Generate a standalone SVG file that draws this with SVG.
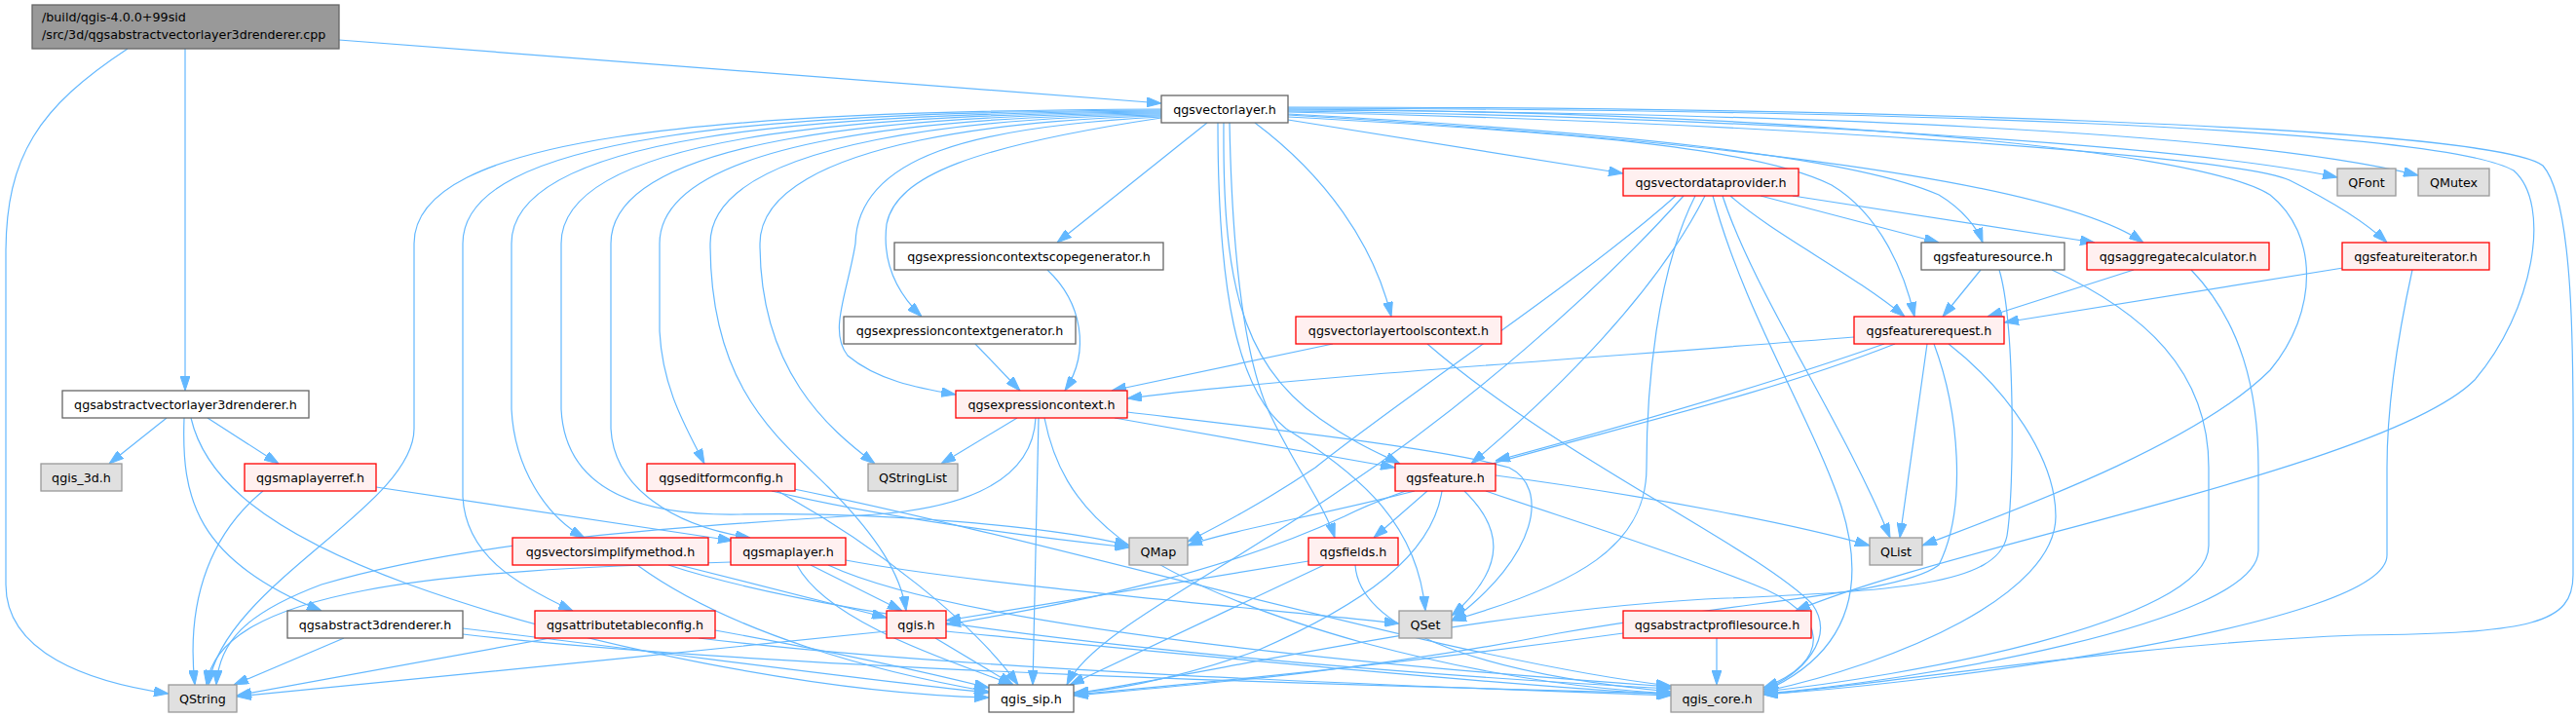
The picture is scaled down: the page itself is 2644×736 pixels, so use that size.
<svg xmlns="http://www.w3.org/2000/svg" width="2644" height="736" viewBox="0 0 2644 736">
<style>
text{font-family:"DejaVu Sans","Liberation Sans",sans-serif;font-size:12.7px;fill:#000;text-anchor:middle}
.rt text{text-anchor:start}
.w{fill:#fff;stroke:#666;stroke-width:1.3}
.r{fill:#fff0f0;stroke:#f00;stroke-width:1.3}
.g{fill:#e0e0e0;stroke:#999;stroke-width:1.3}
.k{fill:#999;stroke:#666;stroke-width:1.3}
#edges path{fill:none;stroke:#63b8ff;stroke-width:1.2;marker-end:url(#ah)}
</style>
<defs>
<marker id="ah" markerUnits="userSpaceOnUse" markerWidth="15" markerHeight="10" refX="15" refY="5" orient="auto">
<path d="M0,0 L15,5 L0,10 z" fill="#63b8ff" stroke="#63b8ff" stroke-width="1"/>
</marker>
</defs>
<rect width="2644" height="736" fill="#fff"/>
<g id="edges">
<path d="M348,41 L1192,106"/>
<path d="M190,50 L190,401"/>
<path d="M131,50 C40,110 6,160 6,260 L6,600 C6,670 90,700 173,712"/>
<path d="M171,429 L112,476"/>
<path d="M213,429 L286,476"/>
<path d="M189,429 C186,510 200,575 330,627"/>
<path d="M196,429 C210,490 270,545 420,600 C600,665 850,712 1015,716"/>
<path d="M386,500 L752,555"/>
<path d="M270,504 C220,545 190,610 200,703"/>
<path d="M353,655 L240,703"/>
<path d="M475,645 C700,672 900,700 1015,711"/>
<path d="M475,651 C800,688 1400,704 1715,712"/>
<path d="M565,655 L243,714"/>
<path d="M734,647 C850,668 950,690 1015,706"/>
<path d="M717,655 C1000,690 1500,706 1715,714"/>
<path d="M697,580 L910,634"/>
<path d="M654,580 C750,650 900,690 1015,710"/>
<path d="M686,580 C900,650 1400,690 1715,707"/>
<path d="M750,577 C450,585 225,605 212,703"/>
<path d="M832,580 L926,627"/>
<path d="M818,580 C850,640 980,680 1040,703"/>
<path d="M850,580 C1000,650 1500,690 1715,705"/>
<path d="M868,575 C1000,600 1300,625 1436,640"/>
<path d="M792,504 C900,530 1050,550 1159,562"/>
<path d="M798,504 C900,560 1000,640 1045,703"/>
<path d="M815,502 C1100,560 1500,680 1715,704"/>
<path d="M1044,429 L966,476"/>
<path d="M1144,429 L1432,480"/>
<path d="M1157,423 C1300,440 1480,460 1549,480 C1590,500 1580,570 1490,637"/>
<path d="M1066,429 L1060,703"/>
<path d="M1072,429 C1090,520 1150,590 1400,660 C1550,700 1650,708 1715,712"/>
<path d="M1063,429 C1060,490 1000,520 900,528 C700,540 480,555 330,600 C250,630 225,660 222,703"/>
<path d="M1001,353 L1047,401"/>
<path d="M1075,277 C1110,310 1120,360 1093,401"/>
<path d="M1368,353 L1141,401"/>
<path d="M1465,353 C1600,470 1800,560 1860,620 C1885,655 1850,692 1810,708"/>
<path d="M1903,346 C1600,370 1300,390 1157,409"/>
<path d="M1934,353 C1800,400 1620,450 1535,473"/>
<path d="M1945,353 C1750,430 1500,470 1380,530 C1250,590 1100,620 971,641"/>
<path d="M1978,353 L1950,552"/>
<path d="M1985,353 C2010,420 2020,520 1990,580 C1950,610 1800,615 1600,650 C1400,690 1200,705 1102,714"/>
<path d="M2000,353 C2060,400 2110,470 2110,530 C2110,610 1950,680 1810,710"/>
<path d="M2033,277 L1994,325"/>
<path d="M2052,277 C2068,330 2068,500 2060,550 C2050,600 1950,607 1750,615 C1500,630 1250,690 1102,712"/>
<path d="M2106,277 C2200,320 2267,380 2267,480 L2267,560 C2267,640 1950,695 1810,710"/>
<path d="M2190,277 L2040,325"/>
<path d="M2249,277 C2300,330 2318,400 2318,480 L2318,565 C2318,640 1960,700 1810,712"/>
<path d="M2405,275 L2057,331"/>
<path d="M2476,277 C2460,350 2450,420 2450,480 L2450,570 C2450,640 2000,700 1810,713"/>
<path d="M1807,201 L1990,249"/>
<path d="M1840,201 L2150,249"/>
<path d="M1776,201 C1820,240 1900,280 1955,325"/>
<path d="M1768,201 C1800,300 1890,430 1940,552"/>
<path d="M1758,201 C1790,320 1860,430 1890,520 C1915,600 1900,670 1810,710"/>
<path d="M1740,201 C1700,280 1690,400 1690,480 C1690,560 1620,600 1490,637"/>
<path d="M1750,201 C1700,300 1600,400 1510,476"/>
<path d="M1720,201 C1620,290 1450,400 1350,480 C1290,520 1250,540 1219,556"/>
<path d="M1728,201 C1640,300 1500,420 1380,500 C1250,590 1120,650 1095,703"/>
<path d="M1452,504 C1350,530 1260,545 1219,560"/>
<path d="M1465,504 L1410,552"/>
<path d="M1503,504 C1540,540 1550,580 1490,632"/>
<path d="M1480,504 C1470,570 1400,620 1290,668 C1200,700 1130,710 1102,711"/>
<path d="M1535,488 C1700,510 1850,540 1919,560"/>
<path d="M1525,504 C1600,530 1700,560 1800,600 C1880,630 1880,680 1810,706"/>
<path d="M1343,576 L971,637"/>
<path d="M1359,580 L1098,703"/>
<path d="M1391,580 C1395,640 1500,690 1715,710"/>
<path d="M910,648 C700,670 400,700 243,715"/>
<path d="M960,655 L1040,703"/>
<path d="M971,648 C1200,670 1500,700 1715,713"/>
<path d="M1666,650 C1450,680 1250,700 1102,713"/>
<path d="M1762,655 L1762,703"/>
<path d="M1322,123 L1666,178"/>
<path d="M1322,114 C1800,120 2250,150 2399,182"/>
<path d="M1322,113 C1850,116 2300,135 2482,180"/>
<path d="M1322,117 C1650,135 1900,160 1990,200 C2015,215 2030,235 2035,249"/>
<path d="M1322,118 C1700,140 2100,180 2200,249"/>
<path d="M1322,115 C1800,125 2300,160 2350,185 C2400,210 2430,230 2450,249"/>
<path d="M1322,120 C1600,135 1800,150 1880,190 C1930,220 1955,280 1965,325"/>
<path d="M1322,112 C1800,115 2250,150 2330,200 C2380,240 2380,320 2330,380 C2250,460 2050,530 1973,560"/>
<path d="M1322,111 C1900,112 2500,130 2580,175 C2620,210 2600,320 2540,390 C2450,480 2000,560 1843,627"/>
<path d="M1322,110 C1900,110 2560,130 2610,170 C2645,210 2641,400 2641,500 L2641,590 C2641,640 2600,650 2420,652 C2200,660 1950,700 1810,713"/>
<path d="M1288,126 C1360,180 1410,250 1428,325"/>
<path d="M1262,126 C1265,280 1280,380 1306,430 C1330,480 1360,520 1370,552"/>
<path d="M1256,126 C1255,280 1270,370 1355,430 C1390,455 1415,465 1437,476"/>
<path d="M1250,126 C1250,300 1270,400 1320,440 C1400,490 1455,540 1463,627"/>
<path d="M1239,126 L1085,249"/>
<path d="M1192,121 C1000,150 920,180 910,230 C905,270 920,300 946,325"/>
<path d="M1192,120 C1000,130 880,160 878,250 C870,300 850,340 870,365 C900,390 940,398 981,405"/>
<path d="M1192,119 C1080,121 780,140 780,250 C780,380 850,440 898,476"/>
<path d="M1192,118 C1029,120 729,140 729,250 C729,400 800,450 850,500 C900,550 925,590 930,627"/>
<path d="M1192,117 C977,119 677,140 677,250 L677,340 C680,400 705,440 723,476"/>
<path d="M1192,116 C927,118 627,140 627,250 L627,440 C630,500 690,540 770,552"/>
<path d="M1192,115 C876,117 576,140 576,250 L576,420 C580,500 650,530 760,528 C900,525 1080,540 1159,560"/>
<path d="M1192,114 C825,116 525,140 525,250 L525,420 C528,480 560,530 600,552"/>
<path d="M1192,113 C775,115 475,140 475,250 L475,510 C478,570 530,600 588,627"/>
<path d="M1192,112 C725,114 425,140 425,250 L425,440 C425,520 230,600 214,703"/>
</g>
<g id="n_root" class="rt"><rect class="k" x="33" y="5" width="315" height="45"/><text x="43" y="22">/build/qgis-4.0.0+99sid</text><text x="43" y="40">/src/3d/qgsabstractvectorlayer3drenderer.cpp</text></g>
<g id="n_vectorlayer"><rect class="w" x="1192" y="98" width="130" height="28"/><text x="1257" y="116.5">qgsvectorlayer.h</text></g>
<g id="n_vectordataprovider"><rect class="r" x="1666" y="173" width="180" height="28"/><text x="1756" y="191.5">qgsvectordataprovider.h</text></g>
<g id="n_qfont"><rect class="g" x="2399" y="173" width="60" height="28"/><text x="2429" y="191.5">QFont</text></g>
<g id="n_qmutex"><rect class="g" x="2482" y="173" width="73" height="28"/><text x="2518.5" y="191.5">QMutex</text></g>
<g id="n_ecsg"><rect class="w" x="918" y="249" width="276" height="28"/><text x="1056" y="267.5">qgsexpressioncontextscopegenerator.h</text></g>
<g id="n_featuresource"><rect class="w" x="1972" y="249" width="147" height="28"/><text x="2045.5" y="267.5">qgsfeaturesource.h</text></g>
<g id="n_aggregatecalculator"><rect class="r" x="2142" y="249" width="187" height="28"/><text x="2235.5" y="267.5">qgsaggregatecalculator.h</text></g>
<g id="n_featureiterator"><rect class="r" x="2404" y="249" width="151" height="28"/><text x="2479.5" y="267.5">qgsfeatureiterator.h</text></g>
<g id="n_ecg"><rect class="w" x="866" y="325" width="238" height="28"/><text x="985" y="343.5">qgsexpressioncontextgenerator.h</text></g>
<g id="n_vltc"><rect class="r" x="1330" y="325" width="211" height="28"/><text x="1435.5" y="343.5">qgsvectorlayertoolscontext.h</text></g>
<g id="n_featurerequest"><rect class="r" x="1903" y="325" width="154" height="28"/><text x="1980" y="343.5">qgsfeaturerequest.h</text></g>
<g id="n_avl3d"><rect class="w" x="64" y="401" width="253" height="28"/><text x="190.5" y="419.5">qgsabstractvectorlayer3drenderer.h</text></g>
<g id="n_expressioncontext"><rect class="r" x="981" y="401" width="176" height="28"/><text x="1069" y="419.5">qgsexpressioncontext.h</text></g>
<g id="n_qgis3d"><rect class="g" x="42" y="476" width="83" height="28"/><text x="83.5" y="494.5">qgis_3d.h</text></g>
<g id="n_maplayerref"><rect class="r" x="251" y="476" width="135" height="28"/><text x="318.5" y="494.5">qgsmaplayerref.h</text></g>
<g id="n_editformconfig"><rect class="r" x="664" y="476" width="152" height="28"/><text x="740" y="494.5">qgseditformconfig.h</text></g>
<g id="n_qstringlist"><rect class="g" x="891" y="476" width="92" height="28"/><text x="937" y="494.5">QStringList</text></g>
<g id="n_feature"><rect class="r" x="1432" y="476" width="103" height="28"/><text x="1483.5" y="494.5">qgsfeature.h</text></g>
<g id="n_vsm"><rect class="r" x="526" y="552" width="201" height="28"/><text x="626.5" y="570.5">qgsvectorsimplifymethod.h</text></g>
<g id="n_maplayer"><rect class="r" x="750" y="552" width="118" height="28"/><text x="809" y="570.5">qgsmaplayer.h</text></g>
<g id="n_qmap"><rect class="g" x="1159" y="552" width="60" height="28"/><text x="1189" y="570.5">QMap</text></g>
<g id="n_fields"><rect class="r" x="1343" y="552" width="92" height="28"/><text x="1389" y="570.5">qgsfields.h</text></g>
<g id="n_qlist"><rect class="g" x="1919" y="552" width="54" height="28"/><text x="1946" y="570.5">QList</text></g>
<g id="n_a3d"><rect class="w" x="295" y="627" width="180" height="28"/><text x="385" y="645.5">qgsabstract3drenderer.h</text></g>
<g id="n_atc"><rect class="r" x="549" y="627" width="185" height="28"/><text x="641.5" y="645.5">qgsattributetableconfig.h</text></g>
<g id="n_qgis"><rect class="r" x="910" y="627" width="61" height="28"/><text x="940.5" y="645.5">qgis.h</text></g>
<g id="n_qset"><rect class="g" x="1436" y="627" width="54" height="28"/><text x="1463" y="645.5">QSet</text></g>
<g id="n_aps"><rect class="r" x="1666" y="627" width="193" height="28"/><text x="1762.5" y="645.5">qgsabstractprofilesource.h</text></g>
<g id="n_qstring"><rect class="g" x="173" y="703" width="70" height="28"/><text x="208" y="721.5">QString</text></g>
<g id="n_sip"><rect class="w" x="1015" y="703" width="87" height="28"/><text x="1058.5" y="721.5">qgis_sip.h</text></g>
<g id="n_core"><rect class="g" x="1715" y="703" width="95" height="28"/><text x="1762.5" y="721.5">qgis_core.h</text></g>
</svg>
